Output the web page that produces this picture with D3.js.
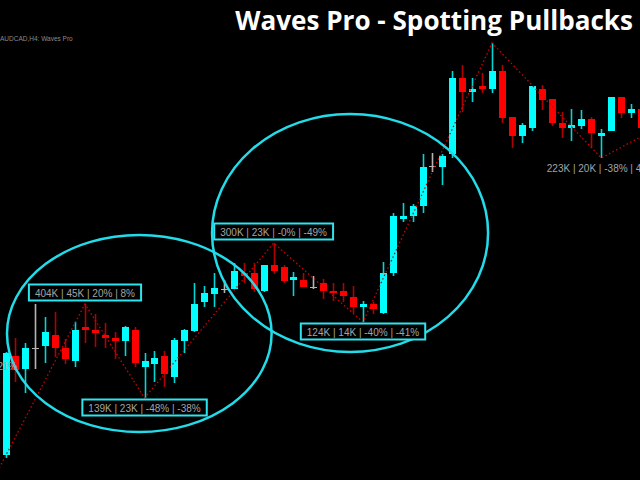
<!DOCTYPE html>
<html>
<head>
<meta charset="utf-8">
<script src="https://cdn.jsdelivr.net/npm/d3@7/dist/d3.min.js"></script>
<style>
  html, body { margin: 0; padding: 0; background: #000; overflow: hidden; }
  svg { display: block; }
</style>
</head>
<body>
<svg id="chart" width="640" height="480"></svg>
<script>
// ---- price bars (OHLC) ----
const opens  = [25,124,111,132,134,145,132,119,153,150,145,142,139,150,113,116,124,103,139,149,178,186,191,191,207,207,189,215,213,200,200,193,197,189,189,183,173,176,167,207,261,264,274,314,313,326,402,388,394,391,409,363,344,352,391,381,357,352,354,361,344,349,383,367,371];
const highs  = [128,142,137,176,163,168,141,158,176,166,157,148,154,153,127,129,129,142,151,197,194,207,200,217,217,217,215,237,215,208,207,204,201,197,197,194,179,178,218,267,277,276,326,327,326,409,415,402,407,437,415,363,357,394,395,381,368,371,370,363,351,383,383,376,375];
const lows   = [22,98,87,111,117,123,116,113,137,133,132,121,124,113,82,98,93,97,127,148,173,173,187,191,197,188,188,206,197,184,193,191,181,179,178,167,158,166,166,204,258,258,267,308,295,322,368,378,387,387,357,332,337,349,370,354,342,339,351,332,322,349,362,362,350];
const closes = [127,110,132,132,148,132,121,150,150,147,142,139,153,117,119,122,106,140,150,176,187,192,191,209,204,191,215,209,199,203,193,193,189,187,184,173,176,171,207,264,264,274,313,314,324,402,388,391,391,409,362,344,355,394,380,357,352,355,361,347,347,383,367,371,352];

// ---- zigzag swing points ----
const pivotIndex = [-1, 8, 14, 27, 36, 49, 60, 66];
const pivotPrice = [5, 176, 82, 237, 158, 437, 322, 354];
const pivotLabels = ["", "404K | 45K | 20% | 8%", "139K | 23K | -48% | -38%", "300K | 23K | -0% | -49%", "124K | 14K | -40% | -41%", "", "223K | 20K | -38% | 48%", ""];
const pivotBoxed  = [false, true, true, true, true, false, false, false];

// tail of the previous swing label at the left edge
const edgeNoteText = "21%";
const edgeNoteIndex = 1;
const edgeNotePrice = 110;

// ---- pullback zones: [first bar, last bar, low price, high price] ----
const zoneStart = [0.15, 20.8];
const zoneEnd   = [26.8, 48.6];
const zoneLow   = [48, 128];
const zoneHigh  = [245, 366];

const titleText = "Waves Pro - Spotting Pullbacks";
const infoText = "AUDCAD,H4: Waves Pro";

// ---- layout ----
const W = 640, H = 480;
const svg = d3.select("#chart");
svg.append("rect").attr("width", W).attr("height", H).attr("fill", "#000");

const x = d3.scaleLinear().domain([0, 64]).range([5.5, 641]);
const y = d3.scaleLinear().domain([0, 480]).range([480, 0]);

const UP = "#00ffff", DOWN = "#ff0000", FLAT = "#b4b4b4";
const bodyW = 7;

const bars = d3.range(opens.length).map(i => ({
  i, o: opens[i], h: highs[i], l: lows[i], c: closes[i]
}));
const colorOf = d => d.c > d.o ? UP : (d.c < d.o ? DOWN : FLAT);
const wickColorOf = d => d.c > d.o ? "#00d8d8" : (d.c < d.o ? "#b00000" : FLAT);

// wicks
const gBars = svg.append("g");
gBars.selectAll("line.wick").data(bars).join("line")
  .attr("class", "wick")
  .attr("x1", d => Math.round(x(d.i)) + 0.5)
  .attr("x2", d => Math.round(x(d.i)) + 0.5)
  .attr("y1", d => y(d.h))
  .attr("y2", d => y(d.l))
  .attr("stroke", wickColorOf)
  .attr("stroke-width", 1.6);

// bodies
gBars.selectAll("rect.body").data(bars.filter(d => d.o !== d.c)).join("rect")
  .attr("class", "body")
  .attr("x", d => Math.round(x(d.i)) + 0.5 - bodyW / 2)
  .attr("y", d => y(Math.max(d.o, d.c)))
  .attr("width", bodyW)
  .attr("height", d => Math.max(1, Math.abs(y(d.o) - y(d.c))))
  .attr("fill", colorOf);

// doji ticks
gBars.selectAll("line.doji").data(bars.filter(d => d.o === d.c)).join("line")
  .attr("class", "doji")
  .attr("x1", d => Math.round(x(d.i)) + 0.5 - bodyW / 2)
  .attr("x2", d => Math.round(x(d.i)) + 0.5 + bodyW / 2)
  .attr("y1", d => Math.round(y(d.o)) + 0.5)
  .attr("y2", d => Math.round(y(d.o)) + 0.5)
  .attr("stroke", FLAT)
  .attr("stroke-width", 1);

// zigzag
const pivots = pivotIndex.map((idx, k) => ({ idx, p: pivotPrice[k], label: pivotLabels[k], boxed: pivotBoxed[k], k }));
const zig = d3.line().x(d => x(d.idx)).y(d => y(d.p));
svg.append("path")
  .datum(pivots)
  .attr("d", zig)
  .attr("fill", "none")
  .attr("stroke", "#d00000")
  .attr("stroke-width", 1.3)
  .attr("stroke-dasharray", "1.5,2.5");

// pullback zones
const zones = zoneStart.map((s, k) => ({ s, e: zoneEnd[k], lo: zoneLow[k], hi: zoneHigh[k] }));
svg.append("g").selectAll("ellipse").data(zones).join("ellipse")
  .attr("cx", d => (x(d.s) + x(d.e)) / 2)
  .attr("cy", d => (y(d.lo) + y(d.hi)) / 2)
  .attr("rx", d => (x(d.e) - x(d.s)) / 2)
  .attr("ry", d => (y(d.lo) - y(d.hi)) / 2)
  .attr("fill", "none")
  .attr("stroke", "#22dcea")
  .attr("stroke-width", 2.5);

// swing labels
const gLab = svg.append("g")
  .attr("font-family", "'Liberation Sans', Arial, sans-serif")
  .attr("font-size", 10);

pivots.filter(d => d.label).forEach(d => {
  const isHigh = d.k > 0 && d.p > pivotPrice[d.k - 1];
  const px = x(d.idx), py = y(d.p);
  const base = isHigh ? py - 7 : py + 14;
  const g = gLab.append("g");
  const t = g.append("text")
    .attr("x", px)
    .attr("y", base)
    .attr("text-anchor", "middle")
    .attr("fill", "#a4a4a4")
    .text(d.label);
  if (d.boxed) {
    const bb = t.node().getBBox();
    g.insert("rect", "text")
      .attr("x", bb.x - 6)
      .attr("y", base - 12.5)
      .attr("width", bb.width + 12)
      .attr("height", 16)
      .attr("fill", "#000")
      .attr("stroke", "#2ee4ee")
      .attr("stroke-width", 2);
  }
});

gLab.append("text")
  .attr("x", x(edgeNoteIndex) + 2)
  .attr("y", y(edgeNotePrice))
  .attr("text-anchor", "end")
  .attr("fill", "#a4a4a4")
  .text(edgeNoteText);

// header texts
svg.append("text")
  .attr("x", 0)
  .attr("y", 41)
  .attr("font-family", "'Liberation Sans', Arial, sans-serif")
  .attr("font-size", 6.5)
  .attr("fill", "#8a8a8a")
  .text(infoText);

// title, sized so its width spans the header band
const title = svg.append("text")
  .attr("x", 633)
  .attr("y", 30)
  .attr("text-anchor", "end")
  .attr("font-family", "'Open Sans', sans-serif")
  .attr("font-weight", 700)
  .attr("font-size", 27)
  .attr("fill", "#ffffff")
  .text(titleText);
const natural = title.node().getComputedTextLength();
title.attr("font-size", Math.min(29, 27 * 398 / natural));
</script>
</body>
</html>
